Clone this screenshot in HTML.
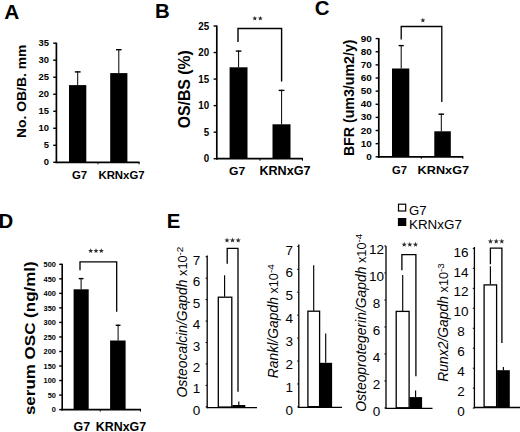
<!DOCTYPE html>
<html><head><meta charset="utf-8"><style>
html,body{margin:0;padding:0;background:#fff;}
svg{display:block;font-family:"Liberation Sans", sans-serif;}
</style></head><body>
<svg width="520" height="432" viewBox="0 0 520 432">
<rect width="520" height="432" fill="#fff"/>
<text transform="translate(4.3,18.8) scale(1.0,1.0)" font-size="20.8" font-weight="bold" font-style="normal" text-anchor="start">A</text>
<text transform="translate(155.0,18.1) scale(1.0,1.0)" font-size="20.4" font-weight="bold" font-style="normal" text-anchor="start">B</text>
<text transform="translate(314.8,14.6) scale(1.0,1.0)" font-size="20.4" font-weight="bold" font-style="normal" text-anchor="start">C</text>
<text transform="translate(-1.4,227.7) scale(1.0,1.0)" font-size="20.4" font-weight="bold" font-style="normal" text-anchor="start">D</text>
<text transform="translate(166.8,227.9) scale(1.0,1.0)" font-size="20.4" font-weight="bold" font-style="normal" text-anchor="start">E</text>
<line x1="56.4" y1="42.7" x2="56.4" y2="163.15" stroke="#000" stroke-width="1.7"/>
<line x1="53.2" y1="162.3" x2="56.4" y2="162.3" stroke="#000" stroke-width="1.4"/>
<text transform="translate(48.9,165.2) scale(1.05,1.1)" font-size="9.0" font-weight="bold" font-style="normal" text-anchor="end">0</text>
<line x1="53.2" y1="145.29" x2="56.4" y2="145.29" stroke="#000" stroke-width="1.4"/>
<text transform="translate(48.9,148.19) scale(1.05,1.1)" font-size="9.0" font-weight="bold" font-style="normal" text-anchor="end">5</text>
<line x1="53.2" y1="128.27" x2="56.4" y2="128.27" stroke="#000" stroke-width="1.4"/>
<text transform="translate(48.9,131.17) scale(1.05,1.1)" font-size="9.0" font-weight="bold" font-style="normal" text-anchor="end">10</text>
<line x1="53.2" y1="111.26" x2="56.4" y2="111.26" stroke="#000" stroke-width="1.4"/>
<text transform="translate(48.9,114.16) scale(1.05,1.1)" font-size="9.0" font-weight="bold" font-style="normal" text-anchor="end">15</text>
<line x1="53.2" y1="94.24" x2="56.4" y2="94.24" stroke="#000" stroke-width="1.4"/>
<text transform="translate(48.9,97.14) scale(1.05,1.1)" font-size="9.0" font-weight="bold" font-style="normal" text-anchor="end">20</text>
<line x1="53.2" y1="77.23" x2="56.4" y2="77.23" stroke="#000" stroke-width="1.4"/>
<text transform="translate(48.9,80.13) scale(1.05,1.1)" font-size="9.0" font-weight="bold" font-style="normal" text-anchor="end">25</text>
<line x1="53.2" y1="60.21" x2="56.4" y2="60.21" stroke="#000" stroke-width="1.4"/>
<text transform="translate(48.9,63.11) scale(1.05,1.1)" font-size="9.0" font-weight="bold" font-style="normal" text-anchor="end">30</text>
<line x1="53.2" y1="43.2" x2="56.4" y2="43.2" stroke="#000" stroke-width="1.4"/>
<text transform="translate(48.9,46.1) scale(1.05,1.1)" font-size="9.0" font-weight="bold" font-style="normal" text-anchor="end">35</text>
<line x1="55.55" y1="162.3" x2="139.6" y2="162.3" stroke="#000" stroke-width="1.7"/>
<line x1="98" y1="162.3" x2="98" y2="164.3" stroke="#000" stroke-width="1.0"/>
<line x1="139.1" y1="162.3" x2="139.1" y2="164.3" stroke="#000" stroke-width="1.0"/>
<rect x="69" y="85.1" width="17.3" height="77.2" fill="#000"/>
<rect x="110.2" y="73.1" width="17.2" height="89.2" fill="#000"/>
<line x1="77.7" y1="71.3" x2="77.7" y2="85.1" stroke="#000" stroke-width="1.0"/>
<line x1="74.8" y1="71.9" x2="80.6" y2="71.9" stroke="#000" stroke-width="1.4"/>
<line x1="118.8" y1="49.1" x2="118.8" y2="73.1" stroke="#000" stroke-width="1.0"/>
<line x1="116.0" y1="49.7" x2="121.6" y2="49.7" stroke="#000" stroke-width="1.4"/>
<text transform="translate(72.0,178.8) scale(1.0,1.0)" font-size="11.4" font-weight="bold" font-style="normal" text-anchor="start">G7</text>
<text transform="translate(98.4,178.8) scale(1.0,1.0)" font-size="11.4" font-weight="bold" font-style="normal" text-anchor="start">KRNxG7</text>
<text transform="translate(26.4,91.35) rotate(-90) scale(1.0,0.92)" font-size="13.9" font-weight="bold" text-anchor="middle">No. OB/B. mm</text>
<line x1="216.8" y1="25.5" x2="216.8" y2="159.55" stroke="#000" stroke-width="1.7"/>
<line x1="213.6" y1="158.7" x2="216.8" y2="158.7" stroke="#000" stroke-width="1.4"/>
<text transform="translate(209.1,162.2) scale(1.03,1.06)" font-size="9.5" font-weight="bold" font-style="normal" text-anchor="end">0</text>
<line x1="213.6" y1="132.16" x2="216.8" y2="132.16" stroke="#000" stroke-width="1.4"/>
<text transform="translate(209.1,135.66) scale(1.03,1.06)" font-size="9.5" font-weight="bold" font-style="normal" text-anchor="end">5</text>
<line x1="213.6" y1="105.62" x2="216.8" y2="105.62" stroke="#000" stroke-width="1.4"/>
<text transform="translate(209.1,109.12) scale(1.03,1.06)" font-size="9.5" font-weight="bold" font-style="normal" text-anchor="end">10</text>
<line x1="213.6" y1="79.08" x2="216.8" y2="79.08" stroke="#000" stroke-width="1.4"/>
<text transform="translate(209.1,82.58) scale(1.03,1.06)" font-size="9.5" font-weight="bold" font-style="normal" text-anchor="end">15</text>
<line x1="213.6" y1="52.54" x2="216.8" y2="52.54" stroke="#000" stroke-width="1.4"/>
<text transform="translate(209.1,56.04) scale(1.03,1.06)" font-size="9.5" font-weight="bold" font-style="normal" text-anchor="end">20</text>
<line x1="213.6" y1="26.0" x2="216.8" y2="26.0" stroke="#000" stroke-width="1.4"/>
<text transform="translate(209.1,29.5) scale(1.03,1.06)" font-size="9.5" font-weight="bold" font-style="normal" text-anchor="end">25</text>
<line x1="215.95" y1="158.7" x2="303" y2="158.7" stroke="#000" stroke-width="1.7"/>
<line x1="260" y1="158.7" x2="260" y2="160.7" stroke="#000" stroke-width="1.0"/>
<line x1="302.5" y1="158.7" x2="302.5" y2="160.7" stroke="#000" stroke-width="1.0"/>
<rect x="229.6" y="67.3" width="17.9" height="91.4" fill="#000"/>
<rect x="272.5" y="124.3" width="18.0" height="34.4" fill="#000"/>
<line x1="238.6" y1="50.5" x2="238.6" y2="67.3" stroke="#000" stroke-width="1.0"/>
<line x1="235.8" y1="51.1" x2="241.4" y2="51.1" stroke="#000" stroke-width="1.4"/>
<line x1="281.6" y1="89.8" x2="281.6" y2="124.3" stroke="#000" stroke-width="1.0"/>
<line x1="278.7" y1="90.4" x2="284.5" y2="90.4" stroke="#000" stroke-width="1.4"/>
<text transform="translate(229.0,175.2) scale(1.0,0.95)" font-size="12.2" font-weight="bold" font-style="normal" text-anchor="start">G7</text>
<text transform="translate(259.4,175.2) scale(1.0,0.95)" font-size="12.6" font-weight="bold" font-style="normal" text-anchor="start">KRNxG7</text>
<text transform="translate(189.6,89.2) rotate(-90) scale(1.0,1.0)" font-size="15.8" font-weight="bold" text-anchor="middle">OS/BS (%)</text>
<path d="M238,42 V28.5 H281.6 V81.4" fill="none" stroke="#000" stroke-width="1.4"/>
<polygon points="254.80,15.90 255.45,17.51 257.18,17.63 255.85,18.74 256.27,20.42 254.80,19.50 253.33,20.42 253.75,18.74 252.42,17.63 254.15,17.51" fill="#2a2a2a"/>
<polygon points="260.30,15.90 260.95,17.51 262.68,17.63 261.35,18.74 261.77,20.42 260.30,19.50 258.83,20.42 259.25,18.74 257.92,17.63 259.65,17.51" fill="#2a2a2a"/>
<line x1="378.8" y1="38.1" x2="378.8" y2="157.65" stroke="#000" stroke-width="1.7"/>
<line x1="375.6" y1="156.8" x2="378.8" y2="156.8" stroke="#000" stroke-width="1.4"/>
<text transform="translate(371.7,159.8) scale(1.2,1.0)" font-size="8.3" font-weight="bold" font-style="normal" text-anchor="end">0</text>
<line x1="375.6" y1="143.67" x2="378.8" y2="143.67" stroke="#000" stroke-width="1.4"/>
<text transform="translate(371.7,146.67) scale(1.2,1.0)" font-size="8.3" font-weight="bold" font-style="normal" text-anchor="end">10</text>
<line x1="375.6" y1="130.53" x2="378.8" y2="130.53" stroke="#000" stroke-width="1.4"/>
<text transform="translate(371.7,133.53) scale(1.2,1.0)" font-size="8.3" font-weight="bold" font-style="normal" text-anchor="end">20</text>
<line x1="375.6" y1="117.4" x2="378.8" y2="117.4" stroke="#000" stroke-width="1.4"/>
<text transform="translate(371.7,120.4) scale(1.2,1.0)" font-size="8.3" font-weight="bold" font-style="normal" text-anchor="end">30</text>
<line x1="375.6" y1="104.27" x2="378.8" y2="104.27" stroke="#000" stroke-width="1.4"/>
<text transform="translate(371.7,107.27) scale(1.2,1.0)" font-size="8.3" font-weight="bold" font-style="normal" text-anchor="end">40</text>
<line x1="375.6" y1="91.13" x2="378.8" y2="91.13" stroke="#000" stroke-width="1.4"/>
<text transform="translate(371.7,94.13) scale(1.2,1.0)" font-size="8.3" font-weight="bold" font-style="normal" text-anchor="end">50</text>
<line x1="375.6" y1="78.0" x2="378.8" y2="78.0" stroke="#000" stroke-width="1.4"/>
<text transform="translate(371.7,81.0) scale(1.2,1.0)" font-size="8.3" font-weight="bold" font-style="normal" text-anchor="end">60</text>
<line x1="375.6" y1="64.87" x2="378.8" y2="64.87" stroke="#000" stroke-width="1.4"/>
<text transform="translate(371.7,67.87) scale(1.2,1.0)" font-size="8.3" font-weight="bold" font-style="normal" text-anchor="end">70</text>
<line x1="375.6" y1="51.73" x2="378.8" y2="51.73" stroke="#000" stroke-width="1.4"/>
<text transform="translate(371.7,54.73) scale(1.2,1.0)" font-size="8.3" font-weight="bold" font-style="normal" text-anchor="end">80</text>
<line x1="375.6" y1="38.6" x2="378.8" y2="38.6" stroke="#000" stroke-width="1.4"/>
<text transform="translate(371.7,41.6) scale(1.2,1.0)" font-size="8.3" font-weight="bold" font-style="normal" text-anchor="end">90</text>
<line x1="377.95" y1="156.8" x2="463.3" y2="156.8" stroke="#000" stroke-width="1.7"/>
<line x1="421.3" y1="156.8" x2="421.3" y2="158.8" stroke="#000" stroke-width="1.0"/>
<line x1="462.8" y1="156.8" x2="462.8" y2="158.8" stroke="#000" stroke-width="1.0"/>
<rect x="392" y="68.5" width="17.3" height="88.3" fill="#000"/>
<rect x="434.3" y="131.3" width="16.5" height="25.5" fill="#000"/>
<line x1="401.2" y1="45.0" x2="401.2" y2="68.5" stroke="#000" stroke-width="1.0"/>
<line x1="398.6" y1="45.6" x2="403.8" y2="45.6" stroke="#000" stroke-width="1.4"/>
<line x1="441.3" y1="113.6" x2="441.3" y2="131.3" stroke="#000" stroke-width="1.0"/>
<line x1="438.5" y1="114.2" x2="444.1" y2="114.2" stroke="#000" stroke-width="1.4"/>
<text transform="translate(392.0,174.2) scale(1.0,1.0)" font-size="11.2" font-weight="bold" font-style="normal" text-anchor="start">G7</text>
<text transform="translate(417.6,174.2) scale(1.0,0.88)" font-size="12.7" font-weight="bold" font-style="normal" text-anchor="start">KRNxG7</text>
<text transform="translate(354.2,97.8) rotate(-90) scale(1.0,1.02)" font-size="14.2" font-weight="bold" text-anchor="middle">BFR (um3/um2/y)</text>
<path d="M401.2,39.6 V26.5 H441.8 V102" fill="none" stroke="#000" stroke-width="1.3"/>
<polygon points="422.90,17.70 423.55,19.41 425.37,19.50 423.95,20.64 424.43,22.40 422.90,21.40 421.37,22.40 421.85,20.64 420.43,19.50 422.25,19.41" fill="#2a2a2a"/>
<line x1="62.2" y1="263.8" x2="62.2" y2="410.4" stroke="#000" stroke-width="1.6"/>
<line x1="59.2" y1="409.6" x2="62.2" y2="409.6" stroke="#000" stroke-width="1.4"/>
<text transform="translate(55.9,412.4) scale(1.0,1.05)" font-size="7.4" font-weight="bold" font-style="normal" text-anchor="end">0</text>
<line x1="59.2" y1="395.07" x2="62.2" y2="395.07" stroke="#000" stroke-width="1.4"/>
<text transform="translate(55.9,397.87) scale(1.0,1.05)" font-size="7.4" font-weight="bold" font-style="normal" text-anchor="end">50</text>
<line x1="59.2" y1="380.54" x2="62.2" y2="380.54" stroke="#000" stroke-width="1.4"/>
<text transform="translate(55.9,383.34) scale(1.0,1.05)" font-size="7.4" font-weight="bold" font-style="normal" text-anchor="end">100</text>
<line x1="59.2" y1="366.01" x2="62.2" y2="366.01" stroke="#000" stroke-width="1.4"/>
<text transform="translate(55.9,368.81) scale(1.0,1.05)" font-size="7.4" font-weight="bold" font-style="normal" text-anchor="end">150</text>
<line x1="59.2" y1="351.48" x2="62.2" y2="351.48" stroke="#000" stroke-width="1.4"/>
<text transform="translate(55.9,354.28) scale(1.0,1.05)" font-size="7.4" font-weight="bold" font-style="normal" text-anchor="end">200</text>
<line x1="59.2" y1="336.95" x2="62.2" y2="336.95" stroke="#000" stroke-width="1.4"/>
<text transform="translate(55.9,339.75) scale(1.0,1.05)" font-size="7.4" font-weight="bold" font-style="normal" text-anchor="end">250</text>
<line x1="59.2" y1="322.42" x2="62.2" y2="322.42" stroke="#000" stroke-width="1.4"/>
<text transform="translate(55.9,325.22) scale(1.0,1.05)" font-size="7.4" font-weight="bold" font-style="normal" text-anchor="end">300</text>
<line x1="59.2" y1="307.89" x2="62.2" y2="307.89" stroke="#000" stroke-width="1.4"/>
<text transform="translate(55.9,310.69) scale(1.0,1.05)" font-size="7.4" font-weight="bold" font-style="normal" text-anchor="end">350</text>
<line x1="59.2" y1="293.36" x2="62.2" y2="293.36" stroke="#000" stroke-width="1.4"/>
<text transform="translate(55.9,296.16) scale(1.0,1.05)" font-size="7.4" font-weight="bold" font-style="normal" text-anchor="end">400</text>
<line x1="59.2" y1="278.83" x2="62.2" y2="278.83" stroke="#000" stroke-width="1.4"/>
<text transform="translate(55.9,281.63) scale(1.0,1.05)" font-size="7.4" font-weight="bold" font-style="normal" text-anchor="end">450</text>
<line x1="59.2" y1="264.3" x2="62.2" y2="264.3" stroke="#000" stroke-width="1.4"/>
<text transform="translate(55.9,267.1) scale(1.0,1.05)" font-size="7.4" font-weight="bold" font-style="normal" text-anchor="end">500</text>
<line x1="61.4" y1="409.6" x2="141" y2="409.6" stroke="#000" stroke-width="1.6"/>
<line x1="100.2" y1="409.6" x2="100.2" y2="411.6" stroke="#000" stroke-width="1.0"/>
<line x1="140.5" y1="409.6" x2="140.5" y2="411.6" stroke="#000" stroke-width="1.0"/>
<rect x="73.6" y="289.3" width="15.1" height="120.3" fill="#000"/>
<rect x="110.1" y="340.5" width="15.5" height="69.1" fill="#000"/>
<line x1="81.1" y1="278.0" x2="81.1" y2="289.3" stroke="#000" stroke-width="1.0"/>
<line x1="78.7" y1="278.6" x2="83.5" y2="278.6" stroke="#000" stroke-width="1.4"/>
<line x1="118.1" y1="324.7" x2="118.1" y2="340.5" stroke="#000" stroke-width="1.0"/>
<line x1="115.7" y1="325.3" x2="120.5" y2="325.3" stroke="#000" stroke-width="1.4"/>
<text transform="translate(73.6,430.6) scale(1.0,1.08)" font-size="12.4" font-weight="bold" font-style="normal" text-anchor="start">G7</text>
<text transform="translate(95.8,430.6) scale(1.0,1.08)" font-size="12.4" font-weight="bold" font-style="normal" text-anchor="start">KRNxG7</text>
<text transform="translate(35.4,338.2) rotate(-90) scale(1.0,0.9)" font-size="17.0" font-weight="bold" text-anchor="middle">serum OSC (ng/ml)</text>
<path d="M80,270.3 V261.8 H116.7 V311.8" fill="none" stroke="#000" stroke-width="1.3"/>
<polygon points="90.70,248.15 91.35,249.91 93.22,249.98 91.75,251.14 92.26,252.94 90.70,251.90 89.14,252.94 89.65,251.14 88.18,249.98 90.05,249.91" fill="#2a2a2a"/>
<polygon points="96.00,248.15 96.65,249.91 98.52,249.98 97.05,251.14 97.56,252.94 96.00,251.90 94.44,252.94 94.95,251.14 93.48,249.98 95.35,249.91" fill="#2a2a2a"/>
<polygon points="101.30,248.15 101.95,249.91 103.82,249.98 102.35,251.14 102.86,252.94 101.30,251.90 99.74,252.94 100.25,251.14 98.78,249.98 100.65,249.91" fill="#2a2a2a"/>
<line x1="207.2" y1="255.5" x2="207.2" y2="408.3" stroke="#000" stroke-width="1.3"/>
<line x1="206.6" y1="407.7" x2="257" y2="407.7" stroke="#000" stroke-width="1.3"/>
<text transform="translate(200.3,414.93) scale(1.0,1.0)" font-size="13.5" font-weight="normal" font-style="normal" text-anchor="end">0</text>
<line x1="205.6" y1="406.8" x2="207.2" y2="406.8" stroke="#000" stroke-width="1.0"/>
<text transform="translate(200.3,393.49) scale(1.0,1.0)" font-size="13.5" font-weight="normal" font-style="normal" text-anchor="end">1</text>
<line x1="205.6" y1="385.36" x2="207.2" y2="385.36" stroke="#000" stroke-width="1.0"/>
<text transform="translate(200.3,372.05) scale(1.0,1.0)" font-size="13.5" font-weight="normal" font-style="normal" text-anchor="end">2</text>
<line x1="205.6" y1="363.92" x2="207.2" y2="363.92" stroke="#000" stroke-width="1.0"/>
<text transform="translate(200.3,350.61) scale(1.0,1.0)" font-size="13.5" font-weight="normal" font-style="normal" text-anchor="end">3</text>
<line x1="205.6" y1="342.48" x2="207.2" y2="342.48" stroke="#000" stroke-width="1.0"/>
<text transform="translate(200.3,329.17) scale(1.0,1.0)" font-size="13.5" font-weight="normal" font-style="normal" text-anchor="end">4</text>
<line x1="205.6" y1="321.04" x2="207.2" y2="321.04" stroke="#000" stroke-width="1.0"/>
<text transform="translate(200.3,307.73) scale(1.0,1.0)" font-size="13.5" font-weight="normal" font-style="normal" text-anchor="end">5</text>
<line x1="205.6" y1="299.6" x2="207.2" y2="299.6" stroke="#000" stroke-width="1.0"/>
<text transform="translate(200.3,286.29) scale(1.0,1.0)" font-size="13.5" font-weight="normal" font-style="normal" text-anchor="end">6</text>
<line x1="205.6" y1="278.16" x2="207.2" y2="278.16" stroke="#000" stroke-width="1.0"/>
<text transform="translate(200.3,264.85) scale(1.0,1.0)" font-size="13.5" font-weight="normal" font-style="normal" text-anchor="end">7</text>
<line x1="205.6" y1="256.72" x2="207.2" y2="256.72" stroke="#000" stroke-width="1.0"/>
<rect x="218.3" y="297.2" width="13.5" height="109.85" fill="#fff" stroke="#000" stroke-width="1.3"/>
<rect x="232.3" y="405.0" width="13.0" height="2.7" fill="#000"/>
<line x1="224.6" y1="275.2" x2="224.6" y2="296.7" stroke="#000" stroke-width="1.15"/>
<line x1="238.8" y1="401.6" x2="238.8" y2="405" stroke="#000" stroke-width="1.15"/>
<path d="M227.2,263.7 V248.3 H238.0 V391.8" fill="none" stroke="#000" stroke-width="1.3"/>
<polygon points="227.00,237.50 227.65,239.41 229.66,239.43 228.05,240.64 228.65,242.57 227.00,241.40 225.35,242.57 225.95,240.64 224.34,239.43 226.35,239.41" fill="#2a2a2a"/>
<polygon points="232.50,237.50 233.15,239.41 235.16,239.43 233.55,240.64 234.15,242.57 232.50,241.40 230.85,242.57 231.45,240.64 229.84,239.43 231.85,239.41" fill="#2a2a2a"/>
<polygon points="238.20,237.50 238.85,239.41 240.86,239.43 239.25,240.64 239.85,242.57 238.20,241.40 236.55,242.57 237.15,240.64 235.54,239.43 237.55,239.41" fill="#2a2a2a"/>
<line x1="298.8" y1="244.6" x2="298.8" y2="407.9" stroke="#000" stroke-width="1.3"/>
<line x1="298.2" y1="407.3" x2="342" y2="407.3" stroke="#000" stroke-width="1.3"/>
<text transform="translate(293.0,415.03) scale(1.0,1.0)" font-size="13.5" font-weight="normal" font-style="normal" text-anchor="end">0</text>
<line x1="297.2" y1="406.9" x2="298.8" y2="406.9" stroke="#000" stroke-width="1.0"/>
<text transform="translate(293.0,392.1) scale(1.0,1.0)" font-size="13.5" font-weight="normal" font-style="normal" text-anchor="end">1</text>
<line x1="297.2" y1="383.97" x2="298.8" y2="383.97" stroke="#000" stroke-width="1.0"/>
<text transform="translate(293.0,369.17) scale(1.0,1.0)" font-size="13.5" font-weight="normal" font-style="normal" text-anchor="end">2</text>
<line x1="297.2" y1="361.04" x2="298.8" y2="361.04" stroke="#000" stroke-width="1.0"/>
<text transform="translate(293.0,346.24) scale(1.0,1.0)" font-size="13.5" font-weight="normal" font-style="normal" text-anchor="end">3</text>
<line x1="297.2" y1="338.11" x2="298.8" y2="338.11" stroke="#000" stroke-width="1.0"/>
<text transform="translate(293.0,323.31) scale(1.0,1.0)" font-size="13.5" font-weight="normal" font-style="normal" text-anchor="end">4</text>
<line x1="297.2" y1="315.18" x2="298.8" y2="315.18" stroke="#000" stroke-width="1.0"/>
<text transform="translate(293.0,300.38) scale(1.0,1.0)" font-size="13.5" font-weight="normal" font-style="normal" text-anchor="end">5</text>
<line x1="297.2" y1="292.25" x2="298.8" y2="292.25" stroke="#000" stroke-width="1.0"/>
<text transform="translate(293.0,277.45) scale(1.0,1.0)" font-size="13.5" font-weight="normal" font-style="normal" text-anchor="end">6</text>
<line x1="297.2" y1="269.32" x2="298.8" y2="269.32" stroke="#000" stroke-width="1.0"/>
<text transform="translate(293.0,254.52) scale(1.0,1.0)" font-size="13.5" font-weight="normal" font-style="normal" text-anchor="end">7</text>
<line x1="297.2" y1="246.39" x2="298.8" y2="246.39" stroke="#000" stroke-width="1.0"/>
<rect x="307.9" y="311.2" width="11.7" height="95.45" fill="#fff" stroke="#000" stroke-width="1.3"/>
<rect x="319.8" y="362.8" width="12.3" height="44.5" fill="#000"/>
<line x1="313.7" y1="265.3" x2="313.7" y2="310.7" stroke="#000" stroke-width="1.15"/>
<line x1="325.7" y1="333.4" x2="325.7" y2="362.8" stroke="#000" stroke-width="1.15"/>
<line x1="386.0" y1="246.0" x2="386.0" y2="409.0" stroke="#000" stroke-width="1.3"/>
<line x1="385.4" y1="408.4" x2="432.5" y2="408.4" stroke="#000" stroke-width="1.3"/>
<text transform="translate(376.6,416.08) scale(1.0,1.0)" font-size="13.5" font-weight="normal" font-style="normal" text-anchor="middle">0</text>
<line x1="384.4" y1="407.95" x2="386.0" y2="407.95" stroke="#000" stroke-width="1.0"/>
<text transform="translate(376.6,389.08) scale(1.0,1.0)" font-size="13.5" font-weight="normal" font-style="normal" text-anchor="middle">2</text>
<line x1="384.4" y1="380.95" x2="386.0" y2="380.95" stroke="#000" stroke-width="1.0"/>
<text transform="translate(376.6,362.08) scale(1.0,1.0)" font-size="13.5" font-weight="normal" font-style="normal" text-anchor="middle">4</text>
<line x1="384.4" y1="353.95" x2="386.0" y2="353.95" stroke="#000" stroke-width="1.0"/>
<text transform="translate(376.6,335.08) scale(1.0,1.0)" font-size="13.5" font-weight="normal" font-style="normal" text-anchor="middle">6</text>
<line x1="384.4" y1="326.95" x2="386.0" y2="326.95" stroke="#000" stroke-width="1.0"/>
<text transform="translate(376.6,308.08) scale(1.0,1.0)" font-size="13.5" font-weight="normal" font-style="normal" text-anchor="middle">8</text>
<line x1="384.4" y1="299.95" x2="386.0" y2="299.95" stroke="#000" stroke-width="1.0"/>
<text transform="translate(376.6,281.08) scale(1.0,1.0)" font-size="13.5" font-weight="normal" font-style="normal" text-anchor="middle">10</text>
<line x1="384.4" y1="272.95" x2="386.0" y2="272.95" stroke="#000" stroke-width="1.0"/>
<text transform="translate(376.6,254.08) scale(1.0,1.0)" font-size="13.5" font-weight="normal" font-style="normal" text-anchor="middle">12</text>
<line x1="384.4" y1="245.95" x2="386.0" y2="245.95" stroke="#000" stroke-width="1.0"/>
<rect x="396.2" y="311.4" width="12.9" height="96.35" fill="#fff" stroke="#000" stroke-width="1.3"/>
<rect x="409.6" y="397.1" width="12.5" height="11.3" fill="#000"/>
<line x1="402.7" y1="274.9" x2="402.7" y2="310.9" stroke="#000" stroke-width="1.15"/>
<line x1="415.6" y1="390.4" x2="415.6" y2="397.1" stroke="#000" stroke-width="1.15"/>
<path d="M401.9,270.2 V254.6 H415.9 V376.3" fill="none" stroke="#000" stroke-width="1.3"/>
<polygon points="404.20,241.80 404.85,243.71 406.86,243.73 405.25,244.94 405.85,246.87 404.20,245.70 402.55,246.87 403.15,244.94 401.54,243.73 403.55,243.71" fill="#2a2a2a"/>
<polygon points="409.80,241.80 410.45,243.71 412.46,243.73 410.85,244.94 411.45,246.87 409.80,245.70 408.15,246.87 408.75,244.94 407.14,243.73 409.15,243.71" fill="#2a2a2a"/>
<polygon points="415.50,241.80 416.15,243.71 418.16,243.73 416.55,244.94 417.15,246.87 415.50,245.70 413.85,246.87 414.45,244.94 412.84,243.73 414.85,243.71" fill="#2a2a2a"/>
<line x1="474.4" y1="247.0" x2="474.4" y2="408.1" stroke="#000" stroke-width="1.3"/>
<line x1="473.8" y1="407.5" x2="520" y2="407.5" stroke="#000" stroke-width="1.3"/>
<text transform="translate(461.0,416.23) scale(1.0,1.0)" font-size="13.5" font-weight="normal" font-style="normal" text-anchor="middle">0</text>
<line x1="472.8" y1="408.1" x2="474.4" y2="408.1" stroke="#000" stroke-width="1.0"/>
<text transform="translate(461.0,396.27) scale(1.0,1.0)" font-size="13.5" font-weight="normal" font-style="normal" text-anchor="middle">2</text>
<line x1="472.8" y1="388.14" x2="474.4" y2="388.14" stroke="#000" stroke-width="1.0"/>
<text transform="translate(461.0,376.31) scale(1.0,1.0)" font-size="13.5" font-weight="normal" font-style="normal" text-anchor="middle">4</text>
<line x1="472.8" y1="368.18" x2="474.4" y2="368.18" stroke="#000" stroke-width="1.0"/>
<text transform="translate(461.0,356.35) scale(1.0,1.0)" font-size="13.5" font-weight="normal" font-style="normal" text-anchor="middle">6</text>
<line x1="472.8" y1="348.22" x2="474.4" y2="348.22" stroke="#000" stroke-width="1.0"/>
<text transform="translate(461.0,336.39) scale(1.0,1.0)" font-size="13.5" font-weight="normal" font-style="normal" text-anchor="middle">8</text>
<line x1="472.8" y1="328.26" x2="474.4" y2="328.26" stroke="#000" stroke-width="1.0"/>
<text transform="translate(461.0,316.43) scale(1.0,1.0)" font-size="13.5" font-weight="normal" font-style="normal" text-anchor="middle">10</text>
<line x1="472.8" y1="308.3" x2="474.4" y2="308.3" stroke="#000" stroke-width="1.0"/>
<text transform="translate(461.0,296.47) scale(1.0,1.0)" font-size="13.5" font-weight="normal" font-style="normal" text-anchor="middle">12</text>
<line x1="472.8" y1="288.34" x2="474.4" y2="288.34" stroke="#000" stroke-width="1.0"/>
<text transform="translate(461.0,276.51) scale(1.0,1.0)" font-size="13.5" font-weight="normal" font-style="normal" text-anchor="middle">14</text>
<line x1="472.8" y1="268.38" x2="474.4" y2="268.38" stroke="#000" stroke-width="1.0"/>
<text transform="translate(461.0,256.55) scale(1.0,1.0)" font-size="13.5" font-weight="normal" font-style="normal" text-anchor="middle">16</text>
<line x1="472.8" y1="248.42" x2="474.4" y2="248.42" stroke="#000" stroke-width="1.0"/>
<rect x="484.1" y="284.9" width="12.5" height="121.95" fill="#fff" stroke="#000" stroke-width="1.3"/>
<rect x="497.1" y="370.2" width="12.7" height="37.3" fill="#000"/>
<line x1="490.4" y1="266.2" x2="490.4" y2="284.4" stroke="#000" stroke-width="1.15"/>
<line x1="503.4" y1="367.0" x2="503.4" y2="370.2" stroke="#000" stroke-width="1.15"/>
<path d="M490.4,264.2 V248.1 H501.9 V343.1" fill="none" stroke="#000" stroke-width="1.3"/>
<polygon points="490.50,238.60 491.15,240.51 493.16,240.53 491.55,241.74 492.15,243.67 490.50,242.50 488.85,243.67 489.45,241.74 487.84,240.53 489.85,240.51" fill="#2a2a2a"/>
<polygon points="496.20,238.60 496.85,240.51 498.86,240.53 497.25,241.74 497.85,243.67 496.20,242.50 494.55,243.67 495.15,241.74 493.54,240.53 495.55,240.51" fill="#2a2a2a"/>
<polygon points="501.80,238.60 502.45,240.51 504.46,240.53 502.85,241.74 503.45,243.67 501.80,242.50 500.15,243.67 500.75,241.74 499.14,240.53 501.15,240.51" fill="#2a2a2a"/>
<text transform="translate(186.5,397.6) rotate(-90) scale(1.0,1.0)" font-size="13.9" font-weight="normal" text-anchor="start"><tspan font-style="italic">Osteocalcin/Gapdh</tspan><tspan font-size="12.7"> x10</tspan><tspan font-size="9.9" dy="-4.0">-2</tspan></text>
<text transform="translate(278.0,378.2) rotate(-90) scale(1.0,1.0)" font-size="13.9" font-weight="normal" text-anchor="start"><tspan font-style="italic">Rankl/Gapdh</tspan><tspan font-size="12.7"> x10</tspan><tspan font-size="9.9" dy="-4.0">-4</tspan></text>
<text transform="translate(366.4,411.7) rotate(-90) scale(1.0,1.0)" font-size="13.9" font-weight="normal" text-anchor="start"><tspan font-style="italic">Osteoprotegerin/Gapdh</tspan><tspan font-size="12.7"> x10</tspan><tspan font-size="9.9" dy="-4.0">-4</tspan></text>
<text transform="translate(448.0,381.7) rotate(-90) scale(1.0,1.0)" font-size="13.9" font-weight="normal" text-anchor="start"><tspan font-style="italic">Runx2/Gapdh</tspan><tspan font-size="12.7"> x10</tspan><tspan font-size="9.9" dy="-4.0">-3</tspan></text>
<rect x="398.5" y="204.2" width="7.2" height="6.8" fill="#fff" stroke="#000" stroke-width="1.2"/>
<rect x="397.9" y="218.0" width="8.4" height="8.0" fill="#000"/>
<text transform="translate(409.0,215.3) scale(1.0,1.0)" font-size="13.2" font-weight="normal" font-style="normal" text-anchor="start">G7</text>
<text transform="translate(409.0,229.0) scale(1.0,1.0)" font-size="13.4" font-weight="normal" font-style="normal" text-anchor="start">KRNxG7</text>
</svg>
</body></html>
